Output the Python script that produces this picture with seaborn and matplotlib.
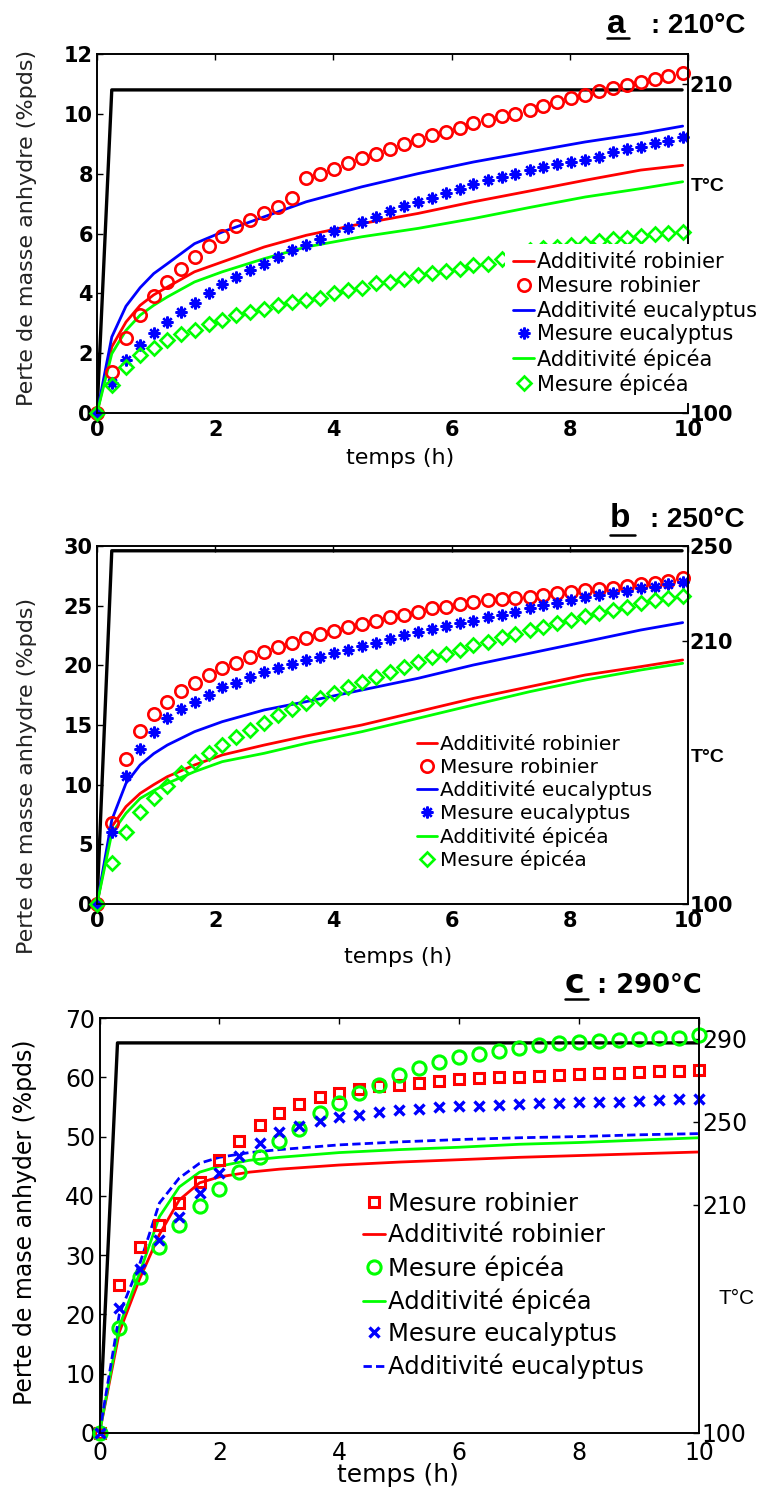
import matplotlib
matplotlib.use('Agg')
import matplotlib.pyplot as plt
from matplotlib.lines import Line2D
import seaborn as sns

# ── Data ──────────────────────────────────────────────────────────────────────
# time grids (h)
T_MES_AB = [0, 0.25, 0.49, 0.73, 0.96, 1.19, 1.42, 1.65, 1.89, 2.12, 2.36, 2.59,
            2.83, 3.07, 3.30, 3.53, 3.77, 4.01, 4.25, 4.48, 4.72, 4.95, 5.19, 5.43,
            5.66, 5.90, 6.14, 6.37, 6.61, 6.85, 7.08, 7.32, 7.55, 7.79, 8.02, 8.26,
            8.50, 8.73, 8.97, 9.20, 9.44, 9.67, 9.91]
T_ADD_AB = [0, 0.25, 0.49, 0.73, 0.96, 1.19, 1.65, 2.12, 2.83, 3.54, 4.48, 5.43,
            6.37, 7.32, 8.26, 9.20, 9.91]
T_MES_C = [0, 0.33, 0.67, 1.0, 1.33, 1.67, 2.0, 2.33, 2.67, 3.0, 3.33, 3.67, 4.0,
           4.33, 4.67, 5.0, 5.33, 5.67, 6.0, 6.33, 6.67, 7.0, 7.33, 7.67, 8.0,
           8.33, 8.67, 9.0, 9.33, 9.67, 10.0]
T_ADD_C = [0, 0.33, 0.67, 1.0, 1.33, 1.67, 2.0, 2.5, 3.0, 4.0, 5.0, 6.0, 7.0, 8.0,
           9.0, 10.0]

# a : 210°C
MES_ROB_A = [0, 1.37, 2.52, 3.27, 3.90, 4.38, 4.83, 5.22, 5.59, 5.93, 6.24, 6.44,
             6.67, 6.89, 7.20, 7.84, 8.00, 8.14, 8.34, 8.51, 8.67, 8.82, 8.99, 9.12,
             9.29, 9.40, 9.54, 9.68, 9.81, 9.92, 10.01, 10.14, 10.26, 10.40, 10.54,
             10.62, 10.77, 10.85, 10.96, 11.07, 11.15, 11.26, 11.37]
MES_EUC_A = [0, 1.00, 1.78, 2.26, 2.69, 3.04, 3.38, 3.68, 4.01, 4.30, 4.53, 4.79,
             4.99, 5.22, 5.44, 5.61, 5.81, 6.09, 6.20, 6.39, 6.56, 6.74, 6.91, 7.06,
             7.20, 7.36, 7.50, 7.65, 7.78, 7.89, 8.00, 8.12, 8.23, 8.32, 8.39, 8.47,
             8.56, 8.73, 8.81, 8.90, 9.01, 9.10, 9.23]
MES_EPI_A = [0, 0.93, 1.54, 1.93, 2.17, 2.43, 2.65, 2.79, 2.97, 3.10, 3.27, 3.38,
             3.46, 3.60, 3.71, 3.79, 3.86, 4.01, 4.10, 4.19, 4.33, 4.38, 4.49, 4.60,
             4.68, 4.75, 4.83, 4.94, 4.99, 5.15, 5.30, 5.45, 5.50, 5.55, 5.61, 5.66,
             5.75, 5.83, 5.86, 5.91, 6.00, 6.02, 6.05]
ADD_ROB_A = [0, 2.21, 3.04, 3.60, 3.95, 4.21, 4.72, 5.05, 5.55, 5.94, 6.33, 6.67,
             7.06, 7.42, 7.78, 8.12, 8.28]
ADD_EUC_A = [0, 2.54, 3.57, 4.19, 4.66, 4.99, 5.66, 6.05, 6.56, 7.06, 7.56, 8.00,
             8.39, 8.73, 9.06, 9.34, 9.59]
ADD_EPI_A = [0, 1.98, 2.76, 3.27, 3.60, 3.88, 4.38, 4.72, 5.16, 5.55, 5.89, 6.17,
             6.50, 6.87, 7.22, 7.50, 7.73]

# b : 250°C
MES_ROB_B = [0, 6.76, 12.12, 14.53, 15.92, 16.96, 17.85, 18.55, 19.19, 19.75, 20.22,
             20.67, 21.15, 21.56, 21.90, 22.26, 22.63, 22.91, 23.24, 23.46, 23.74,
             24.02, 24.22, 24.50, 24.78, 24.92, 25.14, 25.34, 25.47, 25.59, 25.67,
             25.75, 25.87, 26.03, 26.17, 26.31, 26.37, 26.45, 26.65, 26.82, 26.93,
             27.09, 27.29]
MES_EUC_B = [0, 6.06, 10.73, 12.96, 14.44, 15.56, 16.31, 16.96, 17.51, 18.16, 18.55,
             18.99, 19.47, 19.75, 20.11, 20.45, 20.73, 21.01, 21.28, 21.62, 21.90,
             22.18, 22.54, 22.77, 23.02, 23.30, 23.52, 23.74, 24.02, 24.19, 24.50,
             24.78, 25.06, 25.25, 25.47, 25.70, 25.89, 26.03, 26.26, 26.45, 26.59,
             26.82, 27.01]
MES_EPI_B = [0, 3.46, 6.06, 7.74, 8.85, 9.89, 11.01, 11.93, 12.63, 13.32, 14.02,
             14.58, 15.14, 15.84, 16.31, 16.82, 17.23, 17.65, 18.16, 18.63, 19.05,
             19.47, 19.89, 20.31, 20.67, 20.95, 21.28, 21.70, 21.98, 22.35, 22.63,
             22.96, 23.24, 23.58, 23.80, 24.13, 24.41, 24.64, 24.92, 25.20, 25.47,
             25.61, 25.81]
ADD_ROB_B = [0, 6.48, 8.16, 9.27, 10.00, 10.67, 11.65, 12.49, 13.32, 14.08, 15.00,
             16.12, 17.23, 18.21, 19.19, 19.89, 20.45]
ADD_EUC_B = [0, 7.04, 10.11, 11.65, 12.60, 13.32, 14.44, 15.28, 16.26, 16.96, 17.93,
             18.91, 20.03, 21.01, 21.98, 22.96, 23.58]
ADD_EPI_B = [0, 5.92, 7.60, 8.85, 9.50, 10.11, 11.09, 11.93, 12.63, 13.46, 14.44,
             15.56, 16.68, 17.79, 18.77, 19.61, 20.17]

# c : 290°C
MES_ROB_C = [0, 25.0, 31.4, 35.1, 38.8, 42.4, 46.1, 49.2, 52.0, 54.0, 55.5, 56.7,
             57.4, 58.0, 58.5, 58.7, 59.1, 59.4, 59.7, 59.9, 60.0, 60.1, 60.3, 60.4,
             60.5, 60.7, 60.7, 60.9, 61.0, 61.1, 61.2]
MES_EPI_C = [0, 17.7, 26.3, 31.4, 35.1, 38.3, 41.2, 44.1, 46.5, 49.2, 51.3, 53.9,
             55.6, 57.4, 58.7, 60.4, 61.6, 62.5, 63.4, 64.0, 64.5, 65.0, 65.5, 65.7,
             65.9, 66.2, 66.3, 66.5, 66.6, 66.7, 67.2]
MES_EUC_C = [0, 21.1, 27.7, 32.5, 36.5, 40.4, 43.8, 46.8, 49.0, 50.7, 51.8, 52.7,
             53.3, 53.7, 54.1, 54.4, 54.6, 55.0, 55.1, 55.2, 55.4, 55.5, 55.6, 55.6,
             55.8, 55.9, 55.9, 56.0, 56.2, 56.3, 56.4]
ADD_ROB_C = [0, 17.0, 26.0, 33.5, 39.3, 42.2, 43.2, 44.0, 44.5, 45.2, 45.7, 46.1,
             46.5, 46.8, 47.1, 47.4]
ADD_EPI_C = [0, 18.0, 27.0, 36.5, 41.5, 44.0, 45.0, 46.0, 46.5, 47.3, 47.8, 48.2,
             48.7, 49.0, 49.4, 49.8]
ADD_EUC_C = [0, 20.0, 28.5, 38.8, 43.0, 45.5, 46.5, 47.3, 47.8, 48.6, 49.1, 49.5,
             49.8, 50.0, 50.3, 50.5]

# furnace temperature (°C, right axis)
T_TEMP_A, TEMP_A = [0, 0.25, 9.9], [100, 208, 208]
T_TEMP_B, TEMP_B = [0, 0.25, 9.9], [100, 248, 248]
T_TEMP_C, TEMP_C = [0, 0.30, 10.0], [100, 288, 288]

XTICKS = [0, 2, 4, 6, 8, 10]

# ── Style ─────────────────────────────────────────────────────────────────────
sns.set_style('white', {'axes.edgecolor': 'black', 'text.color': 'black',
                        'xtick.color': 'black', 'ytick.color': 'black',
                        'axes.labelcolor': 'black'})
plt.rcParams['font.family'] = ['DejaVu Sans']

RED, BLUE, GREEN = '#ff0000', '#0000ff', '#00ff00'
W, H = 764, 1492
fig = plt.figure(figsize=(W / 100, H / 100), dpi=100)


def rect(l, t, r, b):
    return [l / W, 1 - b / H, (r - l) / W, (b - t) / H]


def add_line(ax, x, y, color, label, ls='-'):
    sns.lineplot(x=x, y=y, ax=ax, color=color, lw=2, linestyle=ls, label=label,
                 legend=False, estimator=None, sort=False)


def add_points(ax, x, y, color, label, marker, ms, mew, filled=False):
    sns.lineplot(x=x, y=y, ax=ax, color=color, linestyle='none', marker=marker,
                 markersize=ms, markeredgewidth=mew, markeredgecolor=color,
                 markerfacecolor=color if filled else 'none', label=label,
                 legend=False, estimator=None, sort=False, clip_on=False)


def make_axes(r):
    ax = fig.add_axes(r)
    ax2 = ax.twinx()
    ax.set_zorder(ax2.get_zorder() + 1)
    ax.patch.set_visible(False)
    for a in (ax, ax2):
        for s in a.spines.values():
            s.set_linewidth(1.2)
            s.set_color('black')
    return ax, ax2


def title(x_letter, x_right, y_base, y_line, letter, rest, letter_font, rest_font,
          letter_size, rest_size):
    fig.text(x_letter / W, 1 - y_base / H, letter, fontsize=letter_size,
             fontweight='bold', family=letter_font, ha='left', va='baseline')
    fig.text(x_right / W, 1 - y_base / H, rest, fontsize=rest_size,
             fontweight='bold', family=rest_font, ha='right', va='baseline')
    w = {'a': 22, 'b': 25, 'c': 23}[letter]
    fig.add_artist(Line2D([x_letter / W, (x_letter + w) / W], [1 - y_line / H] * 2,
                          transform=fig.transFigure, color='black', lw=1.8))


def legend(ax, order, x, y, size, spacing, hlen):
    hd = dict(zip(*ax.get_legend_handles_labels()[::-1]))
    ax.legend([hd[k] for k in order], order, loc='upper left',
              bbox_to_anchor=(x / W, 1 - y / H), bbox_transform=fig.transFigure,
              frameon=True, fancybox=False, edgecolor='none', facecolor='white',
              framealpha=1, fontsize=size, handlelength=hlen, handletextpad=0.15,
              labelspacing=spacing, borderpad=0.4, borderaxespad=0, numpoints=1)


ORDER_AB = ['Additivité robinier', 'Mesure robinier', 'Additivité eucalyptus',
            'Mesure eucalyptus', 'Additivité épicéa', 'Mesure épicéa']
ORDER_C = ['Mesure robinier', 'Additivité robinier', 'Mesure épicéa',
           'Additivité épicéa', 'Mesure eucalyptus', 'Additivité eucalyptus']

# ── Panels a and b ────────────────────────────────────────────────────────────
panels_ab = [
    dict(r=rect(97, 54, 688, 413), ymax=12, ystep=2,
         add=(ADD_ROB_A, ADD_EUC_A, ADD_EPI_A), mes=(MES_ROB_A, MES_EUC_A, MES_EPI_A),
         temp=(T_TEMP_A, TEMP_A), tlim=(100, 220), tticks=[100, 210],
         tlab_y=0.63, ylab_y=0.515, xlab_y=-0.0975, xlab_x=0.513,
         leg=(505, 244, 15, 0.17)),
    dict(r=rect(97, 546, 688, 904), ymax=30, ystep=5,
         add=(ADD_ROB_B, ADD_EUC_B, ADD_EPI_B), mes=(MES_ROB_B, MES_EUC_B, MES_EPI_B),
         temp=(T_TEMP_B, TEMP_B), tlim=(100, 250), tticks=[100, 210, 250],
         tlab_y=0.408, ylab_y=0.358, xlab_y=-0.12, xlab_x=0.509,
         leg=(409, 727, 14.5, 0.18)),
]

for p in panels_ab:
    ax, ax2 = make_axes(p['r'])
    add_line(ax, T_ADD_AB, p['add'][0], RED, 'Additivité robinier')
    add_line(ax, T_ADD_AB, p['add'][1], BLUE, 'Additivité eucalyptus')
    add_line(ax, T_ADD_AB, p['add'][2], GREEN, 'Additivité épicéa')
    add_points(ax, T_MES_AB, p['mes'][0], RED, 'Mesure robinier', 'o', 8.9, 1.9)
    add_points(ax, T_MES_AB, p['mes'][1], BLUE, 'Mesure eucalyptus', (8, 2, 0), 8.5, 1.7, True)
    add_points(ax, T_MES_AB, p['mes'][2], GREEN, 'Mesure épicéa', 'D', 7, 1.9)
    sns.lineplot(x=p['temp'][0], y=p['temp'][1], ax=ax2, color='black', lw=2.4,
                 legend=False, estimator=None, sort=False)

    ax.set_xlim(0, 10)
    ax.set_ylim(0, p['ymax'])
    yt = list(range(0, p['ymax'] + 1, p['ystep']))
    ax.set_xticks(XTICKS, labels=[str(v) for v in XTICKS], fontweight='bold')
    ax.set_yticks(yt, labels=[str(v) for v in yt], fontweight='bold')
    ax.tick_params(direction='in', length=4, width=1, top=True, right=False,
                   labelsize=15)
    ax.tick_params(axis='x', pad=5)
    ax.tick_params(axis='y', pad=3)
    ax.set_xlabel('temps (h)', fontsize=16)
    ax.set_ylabel('Perte de masse anhydre (%pds)', fontsize=16, color='#222222')
    ax.xaxis.set_label_coords(p['xlab_x'], p['xlab_y'])
    ax.yaxis.set_label_coords(-0.1015, p['ylab_y'])

    ax2.set_ylim(*p['tlim'])
    ax2.set_yticks(p['tticks'], labels=[str(v) for v in p['tticks']], fontweight='bold')
    ax2.tick_params(axis='y', direction='in', length=4, width=1, labelsize=15, pad=1)
    ax2.set_ylabel('T°C', rotation=0, ha='left', va='center', fontsize=14,
                   fontweight='bold', family='Liberation Sans')
    ax2.yaxis.set_label_coords(1.005, p['tlab_y'])

    lx, ly, lsize, lsp = p['leg']
    legend(ax, ORDER_AB, lx, ly, lsize, lsp, 1.0)

title(607, 745, 33, 38, 'a', ': 210°C', 'Liberation Sans', 'Liberation Sans', 24, 20)
title(610, 745, 527, 535, 'b', ': 250°C', 'Liberation Sans', 'Liberation Sans', 24, 20)

# ── Panel c ───────────────────────────────────────────────────────────────────
ax, ax2 = make_axes(rect(99.5, 1018, 699, 1433))
add_line(ax, T_ADD_C, ADD_ROB_C, RED, 'Additivité robinier')
add_line(ax, T_ADD_C, ADD_EPI_C, GREEN, 'Additivité épicéa')
add_line(ax, T_ADD_C, ADD_EUC_C, BLUE, 'Additivité eucalyptus', ls=(0, (3, 1.5)))
add_points(ax, T_MES_C, MES_ROB_C, RED, 'Mesure robinier', 's', 7.5, 2.2)
add_points(ax, T_MES_C, MES_EPI_C, GREEN, 'Mesure épicéa', 'o', 9.5, 2.2)
add_points(ax, T_MES_C, MES_EUC_C, BLUE, 'Mesure eucalyptus', 'x', 7, 2.4)
sns.lineplot(x=T_TEMP_C, y=TEMP_C, ax=ax2, color='black', lw=2.4,
             legend=False, estimator=None, sort=False)

ax.set_xlim(0, 10)
ax.set_ylim(0, 70)
yt = list(range(0, 71, 10))
ax.set_xticks(XTICKS, labels=[str(v) for v in XTICKS])
ax.set_yticks(yt, labels=[str(v) for v in yt])
ax.tick_params(direction='in', length=4, width=1, top=True, right=False, labelsize=17)
ax.tick_params(axis='x', pad=6)
ax.tick_params(axis='y', pad=3)
ax.set_xlabel('temps (h)', fontsize=18)
ax.set_ylabel('Perte de mase anhyder (%pds)', fontsize=17)
ax.xaxis.set_label_coords(0.498, -0.072)
ax.yaxis.set_label_coords(-0.104, 0.508)

ax2.set_ylim(100, 300)
ax2.set_yticks([100, 210, 250, 290], labels=['100', '210', '250', '290'])
ax2.tick_params(axis='y', direction='in', length=4, width=1, labelsize=17, pad=2)
ax2.set_ylabel('T°C', rotation=0, ha='left', va='center', fontsize=15,
               family='Liberation Sans')
ax2.yaxis.set_label_coords(1.032, 0.325)

legend(ax, ORDER_C, 353, 1182, 17.5, 0.32, 0.9)
title(565, 702, 993, 999, 'c', ': 290°C', 'DejaVu Sans', 'DejaVu Sans', 24, 18.5)

fig.savefig('out.png', dpi=100)
